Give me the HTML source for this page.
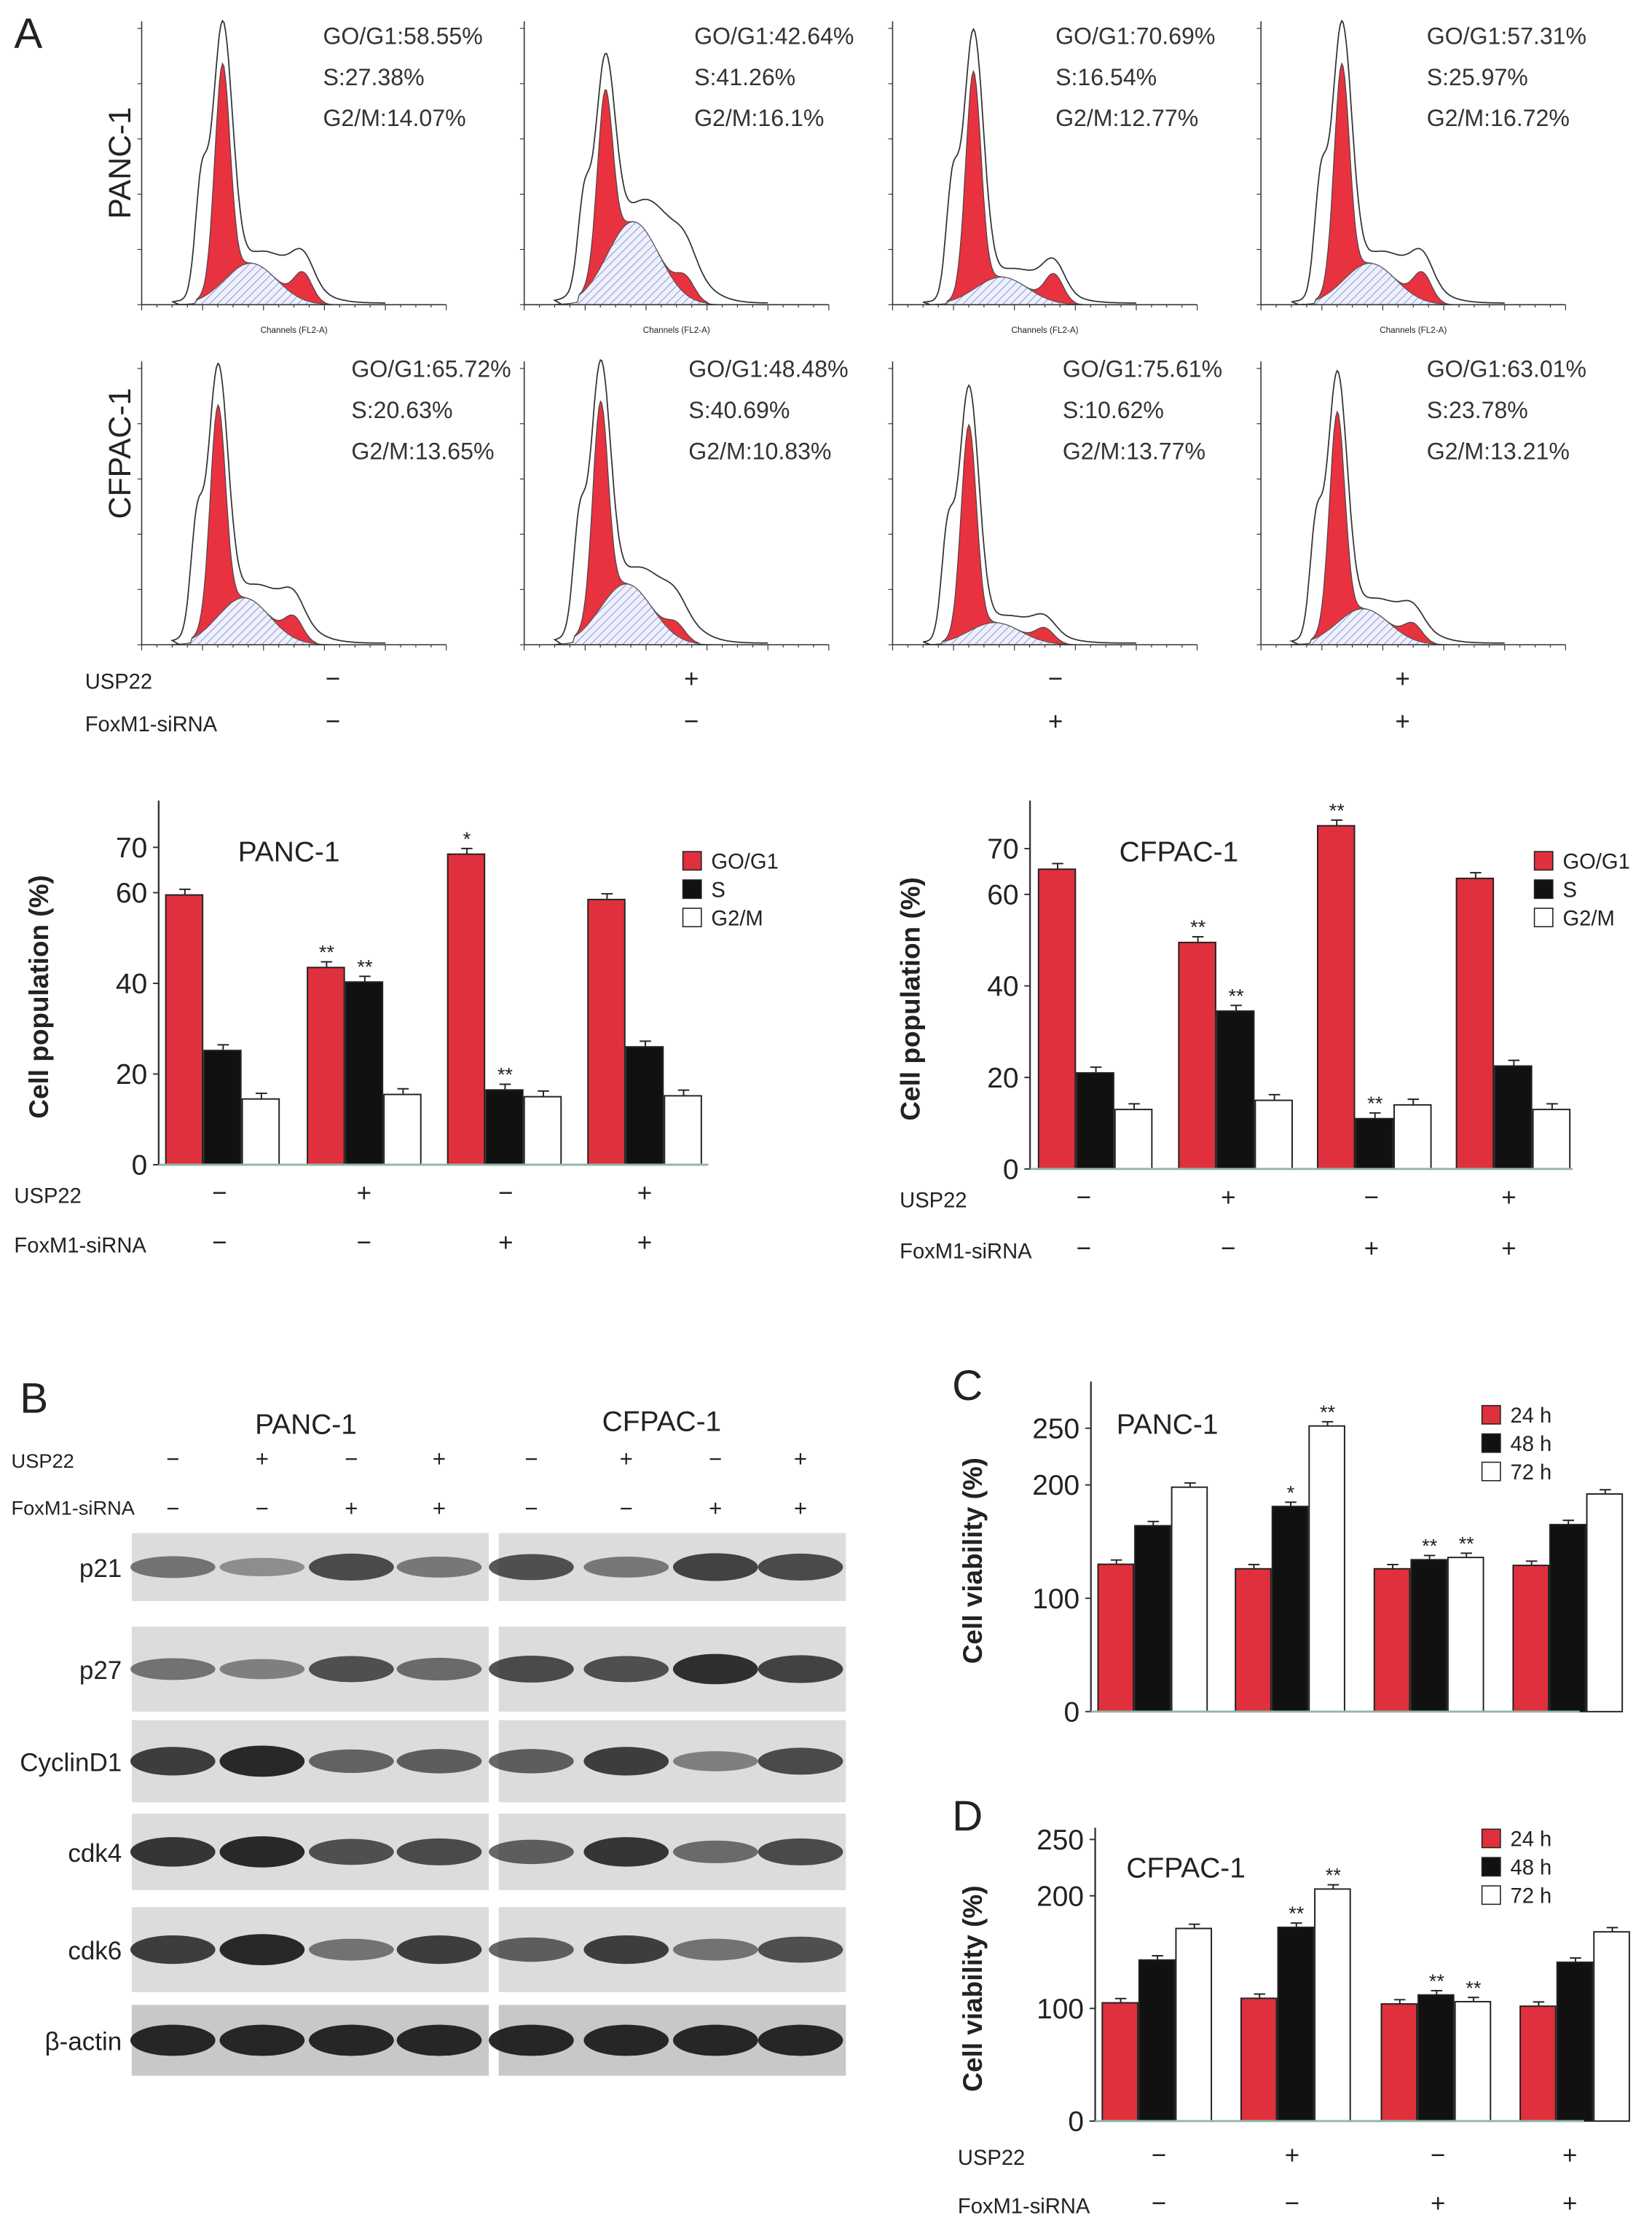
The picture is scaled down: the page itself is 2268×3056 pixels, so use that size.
<!DOCTYPE html>
<html><head><meta charset="utf-8"><style>
html,body{margin:0;padding:0;background:#fff}
svg{display:block}
text{font-family:"Liberation Sans",Arial,sans-serif}
</style></head><body>
<svg id="fig" width="2268" height="3056" viewBox="0 0 1166 1571" xmlns="http://www.w3.org/2000/svg">
<defs>
<pattern id="hatch" width="4" height="4" patternUnits="userSpaceOnUse" patternTransform="rotate(45)">
<rect width="4" height="4" fill="#eef0fb"/><line x1="0" y1="0" x2="0" y2="4" stroke="#8d95d6" stroke-width="1"/></pattern>
</defs>
<g id="root"></g>
</svg>
<script>
// ---------- DATA ----------
const flowG1 = [0.93,0.72,0.93,0.93,0.9,0.88,0.88,0.9];
const flowS = [0.15,0.3,0.1,0.15,0.17,0.22,0.08,0.13];
const flowG2 = [0.1,0.07,0.1,0.1,0.08,0.05,0.05,0.06];
const flowG1Text = ["58.55","42.64","70.69","57.31","65.72","48.48","75.61","63.01"];
const flowSText = ["27.38","41.26","16.54","25.97","20.63","40.69","10.62","23.78"];
const flowG2Text = ["14.07","16.1","12.77","16.72","13.65","10.83","13.77","13.21"];
const usp22 = ["−","+","−","+"];
const foxm1 = ["−","−","+","+"];
const panG1 = [59.5,43.5,68.5,58.5];
const panS = [25.2,40.3,16.5,26];
const panG2 = [14.5,15.5,15,15.2];
const panStars = [["","",""],["**","**",""],["*","**",""],["","",""]];
const cfG1 = [65.5,49.5,75,63.5];
const cfS = [21,34.5,11,22.5];
const cfG2 = [13,15,14,13];
const cfStars = [["","",""],["**","**",""],["**","**",""],["","",""]];
const cv24 = [130,126,126,129];
const cv48 = [164,181,134,165];
const cv72 = [198,252,136,192];
const cvStars = [["","",""],["","*","**"],["","**","**"],["","",""]];
const dv24 = [105,109,104,102];
const dv48 = [143,172,112,141];
const dv72 = [171,206,106,168];
const dvStars = [["","",""],["","**","**"],["","**","**"],["","",""]];
const blotRows = ["p21","p27","CyclinD1","cdk4","cdk6","β-actin"];
const blotLeft = [[0.45,0.25,0.75,0.4],[0.45,0.35,0.7,0.5],[0.85,1,0.55,0.6],[0.9,1,0.7,0.75],[0.85,1,0.45,0.85],[1,1,1,1]];
const blotRight = [[0.7,0.4,0.8,0.75],[0.75,0.7,0.95,0.8],[0.6,0.85,0.35,0.75],[0.6,0.9,0.5,0.75],[0.6,0.85,0.45,0.7],[1,1,1,1]];

// ---------- HELPERS ----------
const NS="http://www.w3.org/2000/svg";
const root=document.getElementById('root');
function el(tag,attrs,parent){const e=document.createElementNS(NS,tag);for(const k in attrs)e.setAttribute(k,attrs[k]);(parent||root).appendChild(e);return e;}
function txt(s,x,y,size,opts,parent){const o=Object.assign({x:x,y:y,'font-size':size,fill:'#222'},opts||{});const t=el('text',o,parent);t.textContent=s;return t;}
function gauss(x,m,s){return Math.exp(-0.5*((x-m)/s)**2);}

// ---------- PANEL LABELS ----------
let t;
t=txt("A",10,34,30,{});
t=txt("B",14,997,30,{});
t=txt("C",672,988,30,{});
t=txt("D",672,1292,30,{});

// ---------- FLOW HISTOGRAMS ----------
const flowLeft=[100,370,630,890], flowBase=[215,455], flowW=215, flowH=195;
const textX=[[228,490,745,1007],[248,486,750,1007]];
const textY=[[30,59,88],[265,294,323]];
for(let i=0;i<8;i++){
  const row=Math.floor(i/4), col=i%4;
  const g=el('g',{});
  
  
  const L=flowLeft[col], B=flowBase[row];
  const px=c=>L+c*flowW/200, py=v=>B-v*flowH;
  const ch=[];for(let c=20;c<=160;c+=1)ch.push(c);
  const g1c=row===0?53:50, g2c=g1c*2;
  const red=c=>flowG1[i]*0.85*gauss(c,g1c,5)+flowG2[i]*gauss(c,g2c,6);
  const sv=c=>flowS[i]*gauss(c,(g1c+g2c)/2-8,17)*(c>g1c-18&&c<g2c+15?1:0.3);
  let dS='M'+px(g1c-18)+','+B;ch.forEach(c=>{dS+=' L'+px(c).toFixed(1)+','+py(sv(c)).toFixed(1);});dS+=' L'+px(160)+','+B+'Z';
  let dR='M'+px(20)+','+B;ch.forEach(c=>{dR+=' L'+px(c).toFixed(1)+','+py(sv(c)+red(c)).toFixed(1);});dR+=' L'+px(160)+','+B+'Z';
  const r=el('path',{d:dR,fill:'#e8323f',stroke:'#444','stroke-width':0.6},g);
  
  const s=el('path',{d:dS,fill:'url(#hatch)',stroke:'#555','stroke-width':0.6},g);
  
  let dO='M'+px(25)+','+B;
  ch.forEach(c=>{const v=flowG1[i]*gauss(c,g1c,6.5)+flowG1[i]*0.4*gauss(c,g1c-14,4)+flowS[i]*1.25*gauss(c,(g1c+g2c)/2,22)+flowG2[i]*gauss(c,g2c,7)+0.006;dO+=' L'+px(c).toFixed(1)+','+py(Math.max(0,v)).toFixed(1);});
  const o=el('path',{d:dO,fill:'none',stroke:'#333','stroke-width':0.9},g);
  
  const ya=el('line',{x1:L,y1:B,x2:L,y2:B-flowH-5,stroke:'#333','stroke-width':0.8},g);
  
  const xa=el('line',{x1:L,y1:B,x2:L+flowW,y2:B,stroke:'#333','stroke-width':0.8},g);
  
  for(let k=0;k<=20;k++){const tk=el('line',{x1:L+k*flowW/20,y1:B,x2:L+k*flowW/20,y2:B+(k%4==0?4:2),stroke:'#333','stroke-width':0.6},g);}
  for(let k=0;k<=5;k++){const tk=el('line',{x1:L,y1:B-k*flowH/5,x2:L-3,y2:B-k*flowH/5,stroke:'#333','stroke-width':0.6},g);}
  if(row===0){t=txt("Channels (FL2-A)",px(100),B+20,6,{'text-anchor':'middle'},g);}
  const vals=["GO/G1:"+flowG1Text[i]+"%","S:"+flowSText[i]+"%","G2/M:"+flowG2Text[i]+"%"];
  for(let k=0;k<3;k++){t=txt(vals[k],textX[row][col],textY[row][k]+1,16.5,{fill:'#333'},g);}
}
t=txt("PANC-1",92,115,22,{'text-anchor':'middle',transform:'rotate(-90 92 115)'});
t=txt("CFPAC-1",92,320,22,{'text-anchor':'middle',transform:'rotate(-90 92 320)'});

function condRows(x0,y1,y2,xs,fs){
  t=txt("USP22",x0,y1,fs,{});
  t=txt("FoxM1-siRNA",x0,y2,fs,{});
  for(let k=0;k<4;k++){
    t=txt(usp22[k],xs[k],y1-1,18,{'text-anchor':'middle'});
    t=txt(foxm1[k],xs[k],y2-1,18,{'text-anchor':'middle'});
  }
}
condRows(60,486,516,[235,488,745,990],15);

// ---------- BAR CHART ----------
function barChart(cfg){
  const g=el('g',{});
  
  
  const y=v=>cfg.base-(v-0)*cfg.ppu;
  const series=[cfg.s1,cfg.s2,cfg.s3], fills=['#e0303d','#111','#fff'];
  for(let gi=0;gi<4;gi++){
    for(let si=0;si<3;si++){
      const v=series[si][gi], x=cfg.gx[gi]+si*cfg.bw;
      const err=cfg.err;
      const e1=el('line',{x1:x+cfg.bw/2,y1:y(v),x2:x+cfg.bw/2,y2:y(v)-err,stroke:'#222','stroke-width':1},g);
      
      const e2=el('line',{x1:x+cfg.bw/2-4,y1:y(v)-err,x2:x+cfg.bw/2+4,y2:y(v)-err,stroke:'#222','stroke-width':1},g);
      
      const r=el('rect',{x:x,y:y(v),width:cfg.bw-1,height:cfg.base-y(v),fill:fills[si],stroke:'#222','stroke-width':1},g);
      
      const st=cfg.stars[gi][si];
      if(st){t=txt(st,x+cfg.bw/2,y(v)-err-2,14,{'text-anchor':'middle'},g);}
    }
  }
  const ya=el('line',{x1:cfg.ax,y1:cfg.base,x2:cfg.ax,y2:cfg.top,stroke:'#333','stroke-width':1.2},g);
  
  const xa=el('line',{x1:cfg.ax,y1:cfg.base,x2:cfg.xend,y2:cfg.base,stroke:'#8fb8a8','stroke-width':1.5},g);
  
  cfg.ticks.forEach(v=>{
    const tk=el('line',{x1:cfg.ax-4,y1:y(v),x2:cfg.ax,y2:y(v),stroke:'#333','stroke-width':1},g);
    
    t=txt(String(v),cfg.ax-8,y(v)+7,20,{'text-anchor':'end'},g);
  });
  const yc=(cfg.base+cfg.top)/2+10;
  t=txt(cfg.ylabel,cfg.ylx,yc,19,{'text-anchor':'middle','font-weight':'bold',transform:'rotate(-90 '+cfg.ylx+' '+yc+')'},g);
  
  t=txt(cfg.title,cfg.tx,cfg.ty,20,{},g);
  for(let k=0;k<3;k++){
    const r=el('rect',{x:cfg.lx,y:cfg.ly+k*cfg.lsp-11,width:13,height:13,fill:fills[k],stroke:'#222','stroke-width':0.8},g);
    
    t=txt(cfg.labels[k],cfg.lx+20,cfg.ly+k*cfg.lsp+1,15,{},g);
  }
}
barChart({name:'panc1-cell-cycle-chart',base:822,top:565,ppu:3.2,ax:112,xend:500,gx:[117,217,316,415],bw:27,err:4,s1:panG1,s2:panS,s3:panG2,stars:panStars,ticks:[0,20,40,60,70],keys:['g0g1','s','g2m'],ylabel:'Cell population (%)',ylx:34,title:'PANC-1',tx:168,ty:608,lx:482,ly:612,lsp:20,labels:['GO/G1','S','G2/M']});
barChart({name:'cfpac1-cell-cycle-chart',base:825,top:565,ppu:3.23,ax:727,xend:1110,gx:[733,832,930,1028],bw:27,err:4,s1:cfG1,s2:cfS,s3:cfG2,stars:cfStars,ticks:[0,20,40,60,70],keys:['g0g1','s','g2m'],ylabel:'Cell population (%)',ylx:649,title:'CFPAC-1',tx:790,ty:608,lx:1083,ly:612,lsp:20,labels:['GO/G1','S','G2/M']});
condRows(10,849,884,[155,257,357,455],15);
condRows(635,852,888,[765,867,968,1065],15);

barChart({name:'panc1-viability-chart',base:1208,top:975,ppu:0.8,ax:770,xend:1115,gx:[775,872,970,1068],bw:26,err:3,s1:cv24,s2:cv48,s3:cv72,stars:cvStars,ticks:[0,100,200,250],keys:['24h','48h','72h'],ylabel:'Cell viability (%)',ylx:693,title:'PANC-1',tx:788,ty:1012,lx:1046,ly:1003,lsp:20,labels:['24 h','48 h','72 h']});
barChart({name:'cfpac1-viability-chart',base:1497,top:1290,ppu:0.795,ax:773,xend:1118,gx:[778,876,975,1073],bw:26,err:3,s1:dv24,s2:dv48,s3:dv72,stars:dvStars,ticks:[0,100,200,250],keys:['24h','48h','72h'],ylabel:'Cell viability (%)',ylx:693,title:'CFPAC-1',tx:795,ty:1325,lx:1046,ly:1302,lsp:20,labels:['24 h','48 h','72 h']});
condRows(676,1528,1562,[818,912,1015,1108],15);

// ---------- WESTERN BLOT ----------
t=txt("PANC-1",180,1012,20,{});
t=txt("CFPAC-1",425,1010,20,{});
const laneL=[122,185,248,310], laneR=[375,442,505,565];
t=txt("USP22",8,1036,14,{});
t=txt("FoxM1-siRNA",8,1069,14,{});
for(let k=0;k<4;k++){
  [laneL[k],laneR[k]].forEach(x=>{
    t=txt(usp22[k],x,1035,16,{'text-anchor':'middle'});
    t=txt(foxm1[k],x,1070,16,{'text-anchor':'middle'});
  });
}
const rowY=[1082,1148,1214,1280,1346,1415], rowH=[48,60,58,54,60,50];
for(let r=0;r<6;r++){
  t=txt(blotRows[r],86,rowY[r]+rowH[r]/2+7,18,{'text-anchor':'end'});
  [[93,252,laneL,blotLeft],[352,245,laneR,blotRight]].forEach(([bx,bw,lanes,vals])=>{
    const bg=el('rect',{x:bx,y:rowY[r],width:bw,height:rowH[r],fill:r===5?'#c8c8c8':'#dcdcdc'});
    
    for(let k=0;k<4;k++){
      const v=vals[r][k];
      const b=el('ellipse',{cx:lanes[k],cy:rowY[r]+rowH[r]/2,rx:30,ry:5+v*6,fill:'#1e1e1e','fill-opacity':(0.25+0.7*v).toFixed(2)});
      
    }
  });
}
</script>
</body></html>
